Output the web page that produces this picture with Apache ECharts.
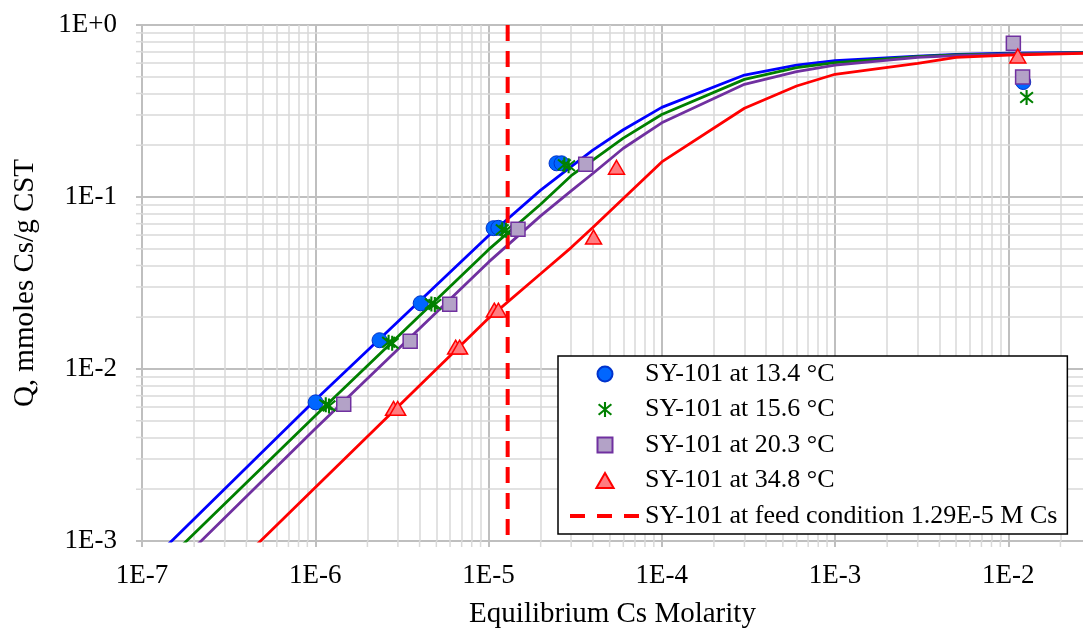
<!DOCTYPE html>
<html><head><meta charset="utf-8">
<script src="https://cdn.jsdelivr.net/npm/echarts@6/dist/echarts.min.js"></script>
<style>html,body{margin:0;padding:0;background:#fff}#c{width:1083px;height:635px}</style>
</head><body><div id="c"></div>
<script>
// ---- data ----
const xTickLabels = ['1E-7','1E-6','1E-5','1E-4','1E-3','1E-2'];
const yTickLabels = ['1E-3','1E-2','1E-1','1E+0'];
const xMin = 1e-7, xMax = 0.027, yMin = 1e-3, yMax = 1;
const feedX = 1.29e-5;

const names = ['SY-101 at 13.4 °C','SY-101 at 15.6 °C','SY-101 at 20.3 °C','SY-101 at 34.8 °C','SY-101 at feed condition 1.29E-5 M Cs'];

const pts134 = [[1.005e-6,6.4e-3],[2.35e-6,0.0147],[4.06e-6,0.0241],[1.07e-5,0.0659],[1.14e-5,0.0662],[2.47e-5,0.157],[2.64e-5,0.157],[1.22e-2,0.466]];
const pts156 = [[1.15e-6,6.2e-3],[1.2e-6,6.1e-3],[2.65e-6,0.0143],[2.78e-6,0.0141],[4.68e-6,0.0239],[4.9e-6,0.0237],[1.2e-5,0.0645],[1.26e-5,0.064],[2.74e-5,0.154],[2.9e-5,0.152],[1.276e-2,0.379]];
const pts203 = [[1.46e-6,6.24e-3],[3.53e-6,0.0145],[5.97e-6,0.0238],[1.48e-5,0.065],[3.64e-5,0.155],[1.07e-2,0.782],[1.21e-2,0.498]];
const pts348 = [[2.83e-6,5.9e-3],[2.99e-6,5.9e-3],[6.46e-6,0.0134],[6.81e-6,0.0134],[1.08e-5,0.022],[1.14e-5,0.022],[4.04e-5,0.0585],[5.48e-5,0.149],[1.135e-2,0.66]];

const fitX   = [1e-7, 1e-6, 1e-5, 2e-5, 3e-5, 4e-5, 6e-5, 1e-4, 3e-4, 6e-4, 1e-3, 3e-3, 5e-3, 1e-2, 2.7e-2];
const fit134 = [6.77e-4, 6.6e-3, 0.0595, 0.1097, 0.150, 0.1874, 0.246, 0.332, 0.512, 0.585, 0.620, 0.660, 0.675, 0.686, 0.692];
const fit156 = [5.6e-4, 5.35e-3, 0.0494, 0.0908, 0.133, 0.164, 0.220, 0.302, 0.483, 0.565, 0.604, 0.655, 0.670, 0.680, 0.690];
const fit203 = [4.59e-4, 4.49e-3, 0.0418, 0.0777, 0.1085, 0.137, 0.192, 0.270, 0.452, 0.535, 0.585, 0.648, 0.664, 0.676, 0.688];
const fit348 = [2.11e-4, 2.05e-3, 0.0197, 0.0358, 0.0508, 0.0664, 0.098, 0.160, 0.328, 0.442, 0.517, 0.599, 0.649, 0.669, 0.684];

// ---- helpers ----
const FONT = "'Liberation Serif','Times New Roman',serif";
function pairs(xs, ys){ return xs.map((x,i)=>[x, ys[i]]); }
function bar(x1,y1,x2,y2,w){
  const dx=x2-x1, dy=y2-y1, L=Math.hypot(dx,dy);
  const nx=-dy/L*w/2, ny=dx/L*w/2;
  return 'M'+(x1+nx)+','+(y1+ny)+'L'+(x2+nx)+','+(y2+ny)+'L'+(x2-nx)+','+(y2-ny)+'L'+(x1-nx)+','+(y1-ny)+'Z';
}
const starPath = 'path://' + bar(10,0,10,20,2.8) + bar(1.5,3,18.5,17,2.8) + bar(18.5,3,1.5,17,2.8);
const squarePath = 'path://M0,0L10,0L10,10L0,10Z';
const triPath = 'path://M5,0L10,8.7L0,8.7Z';

function fmt(labels, minExp){
  return function(v){
    const e = Math.log10(v), r = Math.round(e);
    if (Math.abs(e - r) > 1e-6) return '';
    return labels[r - minExp] || '';
  };
}
const minorXVals = [], minorYVals = [];
for (let d = -7; d <= -2; d++) for (let k = 2; k <= 9; k++) { const v = k * Math.pow(10, d); if (v < xMax) minorXVals.push(v); }
for (let d = -3; d <= -1; d++) for (let k = 2; k <= 9; k++) minorYVals.push(k * Math.pow(10, d));
const minorLines = minorXVals.map(v => [{coord: [v, yMin]}, {coord: [v, yMax]}])
  .concat(minorYVals.map(v => [{coord: [xMin, v]}, {coord: [xMax, v]}]));

const majorGrid = '#bfbfbf', minorGrid = '#d9d9d9';

const chart = echarts.init(document.getElementById('c'), null, {renderer:'canvas'});
chart.setOption({
  animation: false,
  backgroundColor: '#fff',
  grid: {left: 142, top: 25, width: 941, height: 516, containLabel: false, outerBoundsMode: 'none'},
  xAxis: {
    type: 'log', min: xMin, max: xMax, logBase: 10,
    name: 'Equilibrium Cs Molarity', nameLocation: 'middle', nameGap: 59,
    nameTextStyle: {fontFamily: FONT, fontSize: 29, color: '#000'},
    axisLine: {show: true, lineStyle: {color: majorGrid, width: 2}},
    axisTick: {show: true, length: 6, inside: false, lineStyle: {color: majorGrid, width: 2}},
    axisLabel: {fontFamily: FONT, fontSize: 27, color: '#000', margin: 21, formatter: fmt(xTickLabels, -7), showMaxLabel: false},
    splitLine: {show: true, showMaxLine: false, lineStyle: {color: majorGrid, width: 2}},
    minorTick: {show: false}, minorSplitLine: {show: false}
  },
  yAxis: {
    type: 'log', min: yMin, max: yMax, logBase: 10,
    name: 'Q, mmoles Cs/g CST', nameLocation: 'middle', nameGap: 102,
    nameTextStyle: {fontFamily: FONT, fontSize: 29, color: '#000'},
    axisLine: {show: true, lineStyle: {color: majorGrid, width: 2}},
    axisTick: {show: true, length: 6, lineStyle: {color: majorGrid, width: 2}},
    axisLabel: {fontFamily: FONT, fontSize: 27, color: '#000', margin: 25, formatter: fmt(yTickLabels, -3)},
    splitLine: {show: true, lineStyle: {color: majorGrid, width: 2}},
    minorTick: {show: false}, minorSplitLine: {show: false}
  },
  legend: {
    data: [
      {name: names[0], icon: 'circle'},
      {name: names[1], icon: starPath},
      {name: names[2], icon: squarePath},
      {name: names[3], icon: triPath},
      {name: names[4], lineStyle: {type: [15, 12], width: 4, color: '#ff0000'}}
    ],
    orient: 'vertical', left: 558, top: 356, z: 10,
    itemWidth: 70, itemHeight: 15, itemGap: 5.5, padding: [3, 10, 3, 10],
    symbolKeepAspect: true,
    backgroundColor: '#fff', borderColor: '#000', borderWidth: 1.5, borderRadius: 0,
    selectedMode: false,
    textStyle: {fontFamily: FONT, fontSize: 26, color: '#000', lineHeight: 30}
  },
  series: [
    {type: 'line', name: 'minor-grid', data: [], silent: true, z: 1,
     markLine: {silent: true, z: 1, zlevel: 0, symbol: ['none','none'], label: {show: false}, animation: false,
       lineStyle: {color: minorGrid, width: 1.5, type: 'solid'}, emphasis: {disabled: true},
       data: minorLines}},
    {type: 'line', name: 'fit134', data: pairs(fitX, fit134), symbol: 'none', showSymbol: false, silent: true, z: 3,
     lineStyle: {color: '#0000ff', width: 2.8}},
    {type: 'line', name: 'fit156', data: pairs(fitX, fit156), symbol: 'none', showSymbol: false, silent: true, z: 3,
     lineStyle: {color: '#008000', width: 2.8}},
    {type: 'line', name: 'fit203', data: pairs(fitX, fit203), symbol: 'none', showSymbol: false, silent: true, z: 3,
     lineStyle: {color: '#7030a0', width: 2.8}},
    {type: 'line', name: 'fit348', data: pairs(fitX, fit348), symbol: 'none', showSymbol: false, silent: true, z: 3,
     lineStyle: {color: '#ff0000', width: 2.8}},
    {type: 'line', name: names[4], data: [[feedX, yMax], [feedX, yMin]], symbol: 'none', showSymbol: false, z: 4,
     lineStyle: {color: '#ff0000', width: 4, type: [16, 10], opacity: 1}, itemStyle: {color: '#ff0000', opacity: 0}},
    {type: 'scatter', name: names[0], data: pts134, symbol: 'circle', symbolSize: 15, z: 5,
     itemStyle: {color: '#0066ff', borderColor: '#0033cc', borderWidth: 1, opacity: 1}},
    {type: 'scatter', name: names[1], data: pts156, symbol: starPath, symbolSize: 15, symbolKeepAspect: true, z: 5,
     itemStyle: {color: '#008000', opacity: 1}},
    {type: 'scatter', name: names[2], data: pts203, symbol: squarePath, symbolSize: 14, symbolKeepAspect: true, z: 5,
     itemStyle: {color: '#b3a2c7', borderColor: '#7030a0', borderWidth: 1.5, opacity: 1}},
    {type: 'scatter', name: names[3], data: pts348, symbol: triPath, symbolSize: 16, symbolKeepAspect: true, z: 5,
     itemStyle: {color: '#ff7c80', borderColor: '#ff0000', borderWidth: 1.5, opacity: 1}}
  ]
});

// minor tick marks outside the axes, positioned through the axes' own scales
const yBottom = chart.convertToPixel({yAxisIndex: 0}, yMin);
const xLeft = chart.convertToPixel({xAxisIndex: 0}, xMin);
const tickEls = [];
minorXVals.forEach(v => {
  const x = chart.convertToPixel({xAxisIndex: 0}, v);
  tickEls.push({type: 'line', silent: true, z: 2, shape: {x1: x, y1: yBottom, x2: x, y2: yBottom + 6}, style: {stroke: minorGrid, lineWidth: 1.5}});
});
minorYVals.forEach(v => {
  const y = chart.convertToPixel({yAxisIndex: 0}, v);
  tickEls.push({type: 'line', silent: true, z: 2, shape: {x1: xLeft - 6, y1: y, x2: xLeft, y2: y}, style: {stroke: minorGrid, lineWidth: 1.5}});
});
chart.setOption({graphic: tickEls});
</script></body></html>
